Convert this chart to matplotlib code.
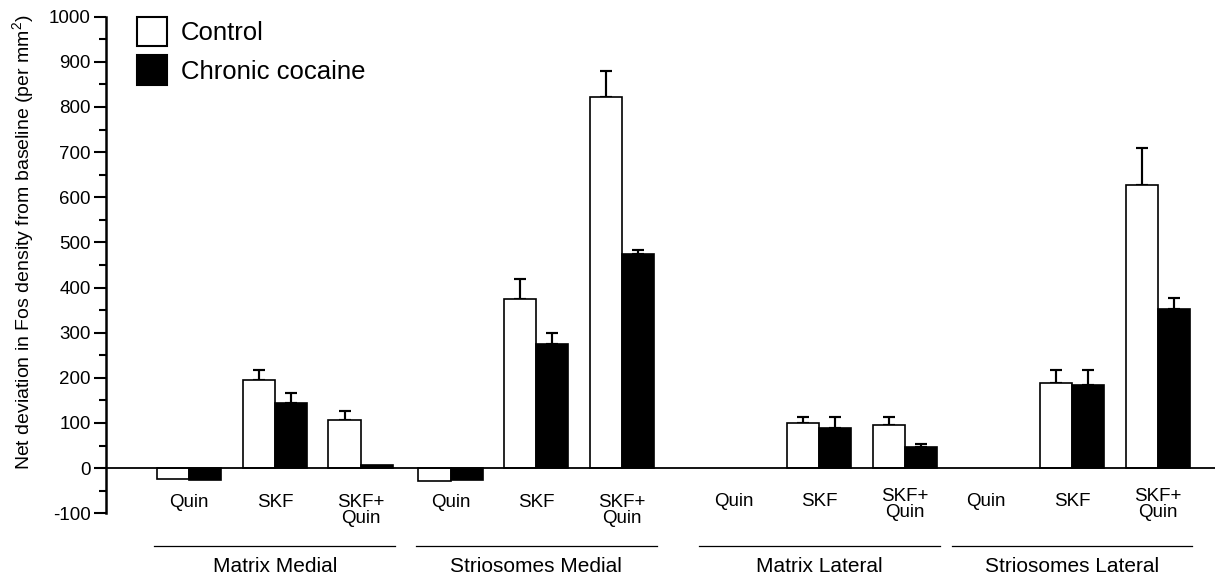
import numpy as np
import matplotlib
matplotlib.use("Agg")
import matplotlib.pyplot as plt
from matplotlib.patches import Patch

plt.rcParams['font.family'] = ['Liberation Sans', 'DejaVu Sans']
plt.rcParams['mathtext.default'] = 'regular'
plt.rcParams['axes.unicode_minus'] = False

# data
groups = ['Matrix Medial', 'Striosomes Medial', 'Matrix Lateral', 'Striosomes Lateral']
conditions = ['Quin', 'SKF', 'SKF+\nQuin']

control = [[-25, 195, 107],
           [-28, 374, 821],
           [0, 100, 95],
           [0, 189, 627]]
control_err = [[np.nan, 22, 19],
               [np.nan, 46, 58],
               [np.nan, 13, 18],
               [np.nan, 28, 82]]
cocaine = [[-26, 144, 7],
           [-27, 274, 474],
           [0, 88, 47],
           [0, 184, 352]]
cocaine_err = [[np.nan, 22, np.nan],
               [np.nan, 25, 10],
               [np.nan, 25, 7],
               [np.nan, 33, 24]]

# layout
group_start = [0, 3.05, 6.35, 9.3]
w = 0.375
lw = 1.2

fig = plt.figure(figsize=(12.2, 5.79), dpi=100)
ax = fig.add_axes([0.0869, 0.1135, 0.9091, 0.8577])

for g in range(len(groups)):
    x = group_start[g] + np.arange(len(conditions))
    c = np.array(control[g], dtype=float)
    k = np.array(cocaine[g], dtype=float)
    ce = np.array(control_err[g], dtype=float)
    ke = np.array(cocaine_err[g], dtype=float)
    m = c != 0
    ax.bar(x[m] - w / 2, c[m], w, color='white', edgecolor='black', linewidth=lw, zorder=3)
    m = k != 0
    ax.bar(x[m] + w / 2, k[m], w, color='black', edgecolor='black', linewidth=lw, zorder=3)
    for xi, yi, ei in zip(x - w / 2, c, ce):
        if not np.isnan(ei):
            ax.errorbar(xi, yi, yerr=[[0], [ei]], fmt='none', ecolor='black',
                        elinewidth=lw * 1.3, capsize=4, capthick=lw * 1.3, zorder=2)
    for xi, yi, ei in zip(x + w / 2, k, ke):
        if not np.isnan(ei):
            ax.errorbar(xi, yi, yerr=[[0], [ei]], fmt='none', ecolor='black',
                        elinewidth=lw * 1.3, capsize=4, capthick=lw * 1.3, zorder=2)

    # condition labels
    for xi, lab in zip(x, conditions):
        if g < 2:
            ax.text(xi, -57, lab, ha='center', va='top', fontsize=13.5,
                    linespacing=0.95, clip_on=False)
        else:
            yy = -75 if '\n' not in lab else -80
            ax.text(xi, yy, lab, ha='center', va='center', fontsize=13.5,
                    linespacing=0.95, clip_on=False)

    # group underline and name
    x0 = x[0] - w - 0.03
    x1 = x[-1] + w + 0.03
    ax.plot([x0, x1], [-172, -172], color='black', lw=0.9, clip_on=False)
    ax.text((x0 + x1) / 2, -218, groups[g], ha='center', va='center',
            fontsize=15, clip_on=False)

ax.axhline(0, color='black', lw=1.3, zorder=4)

ax.set_xlim(-0.97, 11.97)
ax.set_ylim(-100, 1000)
ax.set_yticks(np.arange(-100, 1001, 100))
ax.set_yticks(np.arange(-50, 1000, 100), minor=True)
ax.tick_params(axis='y', which='major', length=9, width=1.5, labelsize=13.5, direction='out', pad=2)
ax.tick_params(axis='y', which='minor', length=5, width=1.5, direction='out')
ax.set_xticks([])
for s in ['top', 'right', 'bottom']:
    ax.spines[s].set_visible(False)
ax.spines['left'].set_linewidth(1.8)

ax.set_ylabel('Net deviation in Fos density from baseline (per mm$^{2}$)', fontsize=14)
ax.yaxis.set_label_coords(-0.063, 0.545)

handles = [Patch(facecolor='white', edgecolor='black', linewidth=1.5, label='Control'),
           Patch(facecolor='black', edgecolor='black', linewidth=1.5, label='Chronic cocaine')]
ax.legend(handles=handles, loc='upper left', bbox_to_anchor=(0.028, 1.0), frameon=False,
          fontsize=18.5, handlelength=1.15, handleheight=1.4, handletextpad=0.55,
          labelspacing=0.35, borderpad=0, borderaxespad=0)

fig.savefig('out.png', dpi=100)
